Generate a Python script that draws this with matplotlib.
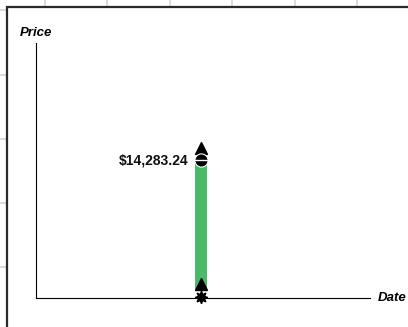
import matplotlib
matplotlib.use("Agg")
import matplotlib.pyplot as plt
from matplotlib.patches import Rectangle

# ---- data ----
x_pos = [0]
bar_top = [14283.24]
bar_bottom = [720]
high_marker = [15530]
low_marker = [1450]
min_marker = [100]
price_label = ["$14,283.24"]

W, H = 408, 327
fig = plt.figure(figsize=(W / 100, H / 100), dpi=100)
fig.patch.set_facecolor("white")

# background grid (figure coordinates, pixel based)
bg = fig.add_axes([0, 0, 1, 1])
bg.set_xlim(0, W)
bg.set_ylim(H, 0)
bg.axis("off")
for gx in [45, 107, 170, 232, 295, 357]:
    bg.axvline(gx, color="#d6d6d6", lw=1.2, zorder=0)
for gy in [10, 75, 139, 203, 267]:
    bg.axhline(gy, color="#d6d6d6", lw=1.2, zorder=0)
bg.add_patch(Rectangle((7, 7), W + 20, H + 20, facecolor="white",
                       edgecolor="#2a2a2a", lw=1.6, zorder=1))

# main axes
left, right, top, bottom = 36, 370, 43, 298
ax = fig.add_axes([left / W, (H - bottom) / H, (right - left) / W, (bottom - top) / H])
ax.patch.set_alpha(0)
ax.set_xlim(-0.988, 1.012)
ax.set_ylim(0, 26400)
for s in ["top", "right"]:
    ax.spines[s].set_visible(False)
for s in ["left", "bottom"]:
    ax.spines[s].set_color("black")
    ax.spines[s].set_linewidth(0.8)
ax.set_xticks([])
ax.set_yticks([])

green = "#4cb86a"
ax.bar(x_pos, [t - b for t, b in zip(bar_top, bar_bottom)], bottom=bar_bottom,
       width=0.066, color=green, zorder=2)
ax.plot(x_pos, high_marker, linestyle="none", marker="^", markersize=8.5,
        color="black", zorder=4, clip_on=False)
ax.plot(x_pos, bar_top, linestyle="none", marker="o", markersize=9.5,
        markerfacecolor="black", markeredgecolor="white", markeredgewidth=0.8,
        zorder=4, clip_on=False)
ax.plot(x_pos, bar_top, linestyle="none", marker="_", markersize=9.5,
        color="white", markeredgewidth=1.0, zorder=5, clip_on=False)
ax.plot(x_pos, low_marker, linestyle="none", marker="^", markersize=8.5,
        color="black", zorder=4, clip_on=False)
ax.plot(x_pos, min_marker, linestyle="none", marker=(8, 1, 0), markersize=9,
        color="black", zorder=4, clip_on=False)

for xv, yv, lab in zip(x_pos, bar_top, price_label):
    ax.annotate(lab, (xv, yv), xytext=(-9, 0), textcoords="offset points",
                ha="right", va="center", fontsize=10, fontweight="bold",
                family="Liberation Sans", color="#111111")

fig.text(20 / W, 1 - 33 / H, "Price", ha="left", va="center", fontsize=9.5,
         fontweight="bold", fontstyle="italic", family="Liberation Sans")
fig.text(378 / W, 1 - 298 / H, "Date", ha="left", va="center", fontsize=9.5,
         fontweight="bold", fontstyle="italic", family="Liberation Sans")

fig.savefig("out.png", dpi=100)
